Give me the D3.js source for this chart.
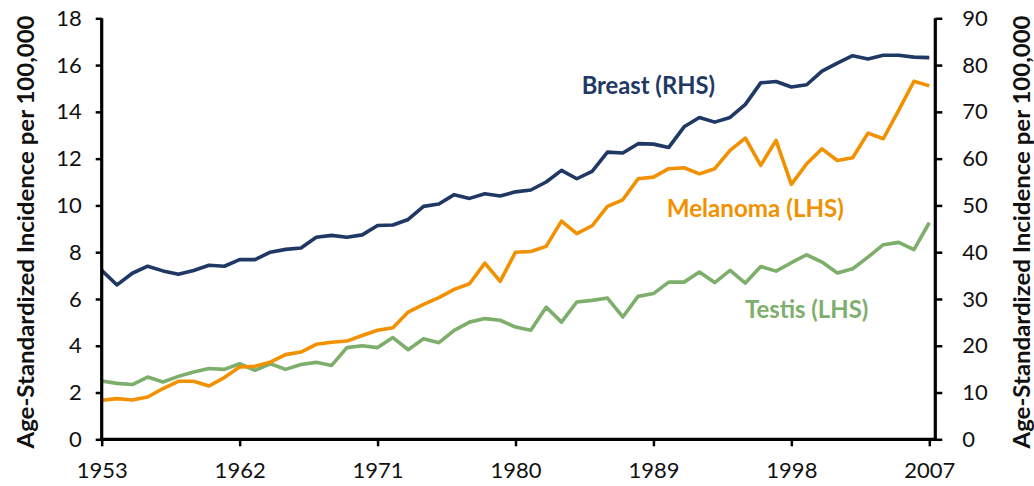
<!DOCTYPE html>
<html>
<head>
<meta charset="utf-8">
<script src="https://cdn.jsdelivr.net/npm/d3@7"></script>
<style>
  html, body { margin: 0; padding: 0; background: #fff; }
  svg { display: block; }
  text { font-family: Lato, "Open Sans", sans-serif; }
</style>
</head>
<body>
<svg id="chart" width="1034" height="486"></svg>
<script>
const years = [1953,1954,1955,1956,1957,1958,1959,1960,1961,1962,1963,1964,1965,1966,1967,1968,1969,1970,1971,1972,
  1973,1974,1975,1976,1977,1978,1979,1980,1981,1982,1983,1984,1985,1986,1987,1988,1989,1990,1991,
  1992,1993,1994,1995,1996,1997,1998,1999,2000,2001,2002,2003,2004,2005,2006,2007];

// Right-hand scale (per 100,000)
const breastRHS = [36.1,33.0,35.5,37.0,36.0,35.3,36.1,37.2,37.0,38.4,38.4,40.0,40.6,40.9,43.2,43.6,43.2,43.7,45.7,45.8,
  47.0,49.8,50.3,52.3,51.5,52.5,52.0,52.9,53.3,55.0,57.5,55.7,57.3,61.4,61.2,63.2,63.1,62.4,66.8,
  68.8,67.8,68.8,71.6,76.2,76.5,75.3,75.8,78.7,80.4,82.0,81.3,82.1,82.1,81.7,81.6];

// Left-hand scale (per 100,000)
const melanomaLHS = [1.67,1.74,1.68,1.81,2.17,2.48,2.48,2.28,2.64,3.09,3.12,3.30,3.62,3.73,4.06,4.15,4.20,4.44,4.66,4.77,
  5.44,5.77,6.06,6.41,6.65,7.53,6.75,8.00,8.03,8.25,9.33,8.79,9.13,9.96,10.24,11.14,11.21,11.57,11.61,
  11.35,11.57,12.35,12.88,11.71,12.78,10.90,11.78,12.42,11.92,12.04,13.09,12.85,14.06,15.31,15.11];

const testisLHS = [2.49,2.39,2.34,2.66,2.45,2.69,2.88,3.03,2.99,3.23,2.95,3.23,2.99,3.20,3.29,3.16,3.92,4.00,3.92,4.35,
  3.83,4.30,4.13,4.66,5.01,5.16,5.09,4.80,4.66,5.65,5.01,5.87,5.94,6.04,5.23,6.11,6.23,6.72,6.72,
  7.15,6.70,7.22,6.68,7.39,7.19,7.55,7.89,7.58,7.11,7.29,7.79,8.32,8.42,8.11,9.26];

const xTicks = [1953,1962,1971,1980,1989,1998,2007];
const leftTicks = [0,2,4,6,8,10,12,14,16,18];
const rightTicks = [0,10,20,30,40,50,60,70,80,90];
const axisTitle = "Age-Standardized Incidence per 100,000";

const colors = { breast: "#1F3864", melanoma: "#F29100", testis: "#7DAE6B" };

const svg = d3.select("#chart");

const x = d3.scaleLinear().domain([1953, 2007]).range([101.7, 929.3]);
const yL = d3.scaleLinear().domain([0, 18]).range([439.3, 18.3]);
const yR = d3.scaleLinear().domain([0, 90]).range([439.3, 18.3]);
const rightAxisX = 935.3;

// Lines
const lineL = d3.line().x((d, i) => x(years[i])).y(d => yL(d));
const lineR = d3.line().x((d, i) => x(years[i])).y(d => yR(d));

function drawLine(data, gen, color) {
  svg.append("path")
    .datum(data)
    .attr("fill", "none")
    .attr("stroke", color)
    .attr("stroke-width", 3.6)
    .attr("stroke-linejoin", "round")
    .attr("d", gen);
}
drawLine(testisLHS, lineL, colors.testis);
drawLine(melanomaLHS, lineL, colors.melanoma);
drawLine(breastRHS, lineR, colors.breast);

// Axes
const fontSize = 22;
const gL = svg.append("g").attr("transform", `translate(${x(1953)},0)`)
  .call(d3.axisLeft(yL).tickValues(leftTicks).tickSize(6).tickPadding(14).tickFormat(d3.format("d")));
const gR = svg.append("g").attr("transform", `translate(${rightAxisX},0)`)
  .call(d3.axisRight(yR).tickValues(rightTicks).tickSize(7).tickPadding(20).tickFormat(d3.format("d")));
const gX = svg.append("g").attr("transform", `translate(0,${yL(0)})`)
  .call(d3.axisBottom(x).tickValues(xTicks).tickSize(7).tickPadding(16).tickFormat(d3.format("d")));

[gL, gR, gX].forEach(g => {
  g.select(".domain").remove();
  g.selectAll(".tick line").attr("stroke", "#000").attr("stroke-width", 2.5);
  g.selectAll(".tick text").attr("fill", "#111").style("font-size", fontSize + "px")
    .style("font-family", "Lato, 'Open Sans', sans-serif");
});

// Axis lines
svg.append("line").attr("x1", x(1953)).attr("x2", x(1953)).attr("y1", yL(18)).attr("y2", yL(0) + 1.5)
  .attr("stroke", "#000").attr("stroke-width", 3.2);
svg.append("line").attr("x1", rightAxisX).attr("x2", rightAxisX).attr("y1", yR(90)).attr("y2", yR(0) + 1.5)
  .attr("stroke", "#000").attr("stroke-width", 3.2);
svg.append("line").attr("x1", x(1953) - 1.5).attr("x2", rightAxisX + 1.5).attr("y1", yL(0)).attr("y2", yL(0))
  .attr("stroke", "#000").attr("stroke-width", 3.2);

// Axis titles
function axisTitleText(cx, cy) {
  svg.append("text")
    .attr("transform", `translate(${cx},${cy}) rotate(-90)`)
    .attr("text-anchor", "middle")
    .attr("dominant-baseline", "central")
    .attr("font-weight", "bold")
    .attr("font-size", 22)
    .attr("fill", "#111")
    .attr("textLength", 433)
    .attr("lengthAdjust", "spacingAndGlyphs")
    .text(axisTitle);
}
axisTitleText(25, 232);
axisTitleText(1021, 232);

// Series labels
const labels = [
  { text: "Breast (RHS)", x: 581.7, y: 94.3, w: 133.3, color: colors.breast },
  { text: "Melanoma (LHS)", x: 666.7, y: 216.7, w: 177.3, color: colors.melanoma },
  { text: "Testis (LHS)", x: 745, y: 318.3, w: 123.3, color: colors.testis }
];
svg.selectAll("text.series-label")
  .data(labels)
  .enter().append("text")
  .attr("class", "series-label")
  .attr("x", d => d.x)
  .attr("y", d => d.y)
  .attr("font-weight", "bold")
  .attr("font-size", 24)
  .attr("fill", d => d.color)
  .attr("textLength", d => d.w)
  .attr("lengthAdjust", "spacingAndGlyphs")
  .text(d => d.text);
</script>
</body>
</html>
